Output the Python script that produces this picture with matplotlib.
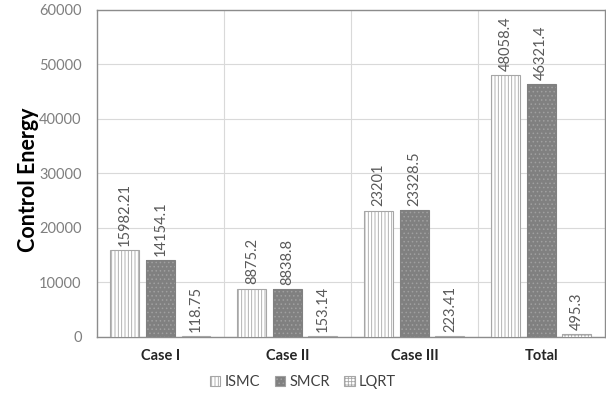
import matplotlib
matplotlib.use("Agg")
import matplotlib.pyplot as plt
import numpy as np
from matplotlib.patches import Patch

categories = ["Case I", "Case II", "Case III", "Total"]
series = ["ISMC", "SMCR", "LQRT"]
ismc = [15982.21, 8875.2, 23201, 48058.4]
smcr = [14154.1, 8838.8, 23328.5, 46321.4]
lqrt = [118.75, 153.14, 223.41, 495.3]
labels_ismc = ["15982.21", "8875.2", "23201", "48058.4"]
labels_smcr = ["14154.1", "8838.8", "23328.5", "46321.4"]
labels_lqrt = ["118.75", "153.14", "223.41", "495.3"]
yticks = [0, 10000, 20000, 30000, 40000, 50000, 60000]

plt.rcParams['font.family'] = ['Lato', 'DejaVu Sans']
plt.rcParams['hatch.linewidth'] = 0.6

fig = plt.figure(figsize=(6.06, 3.96), dpi=100)
ax = fig.add_axes([0.160, 0.149, 0.838, 0.826])

x = np.arange(len(categories))
w = 0.228
step = 0.28
styles = [
    dict(face="white", hatch="|||||", hcol="#a6a6a6", edge="#a6a6a6"),
    dict(face="#808080", hatch="....", hcol="#a0a0a0", edge="#808080"),
    dict(face="white", hatch="+++++", hcol="#a6a6a6", edge="#a6a6a6"),
]
data = [ismc, smcr, lqrt]
labs = [labels_ismc, labels_smcr, labels_lqrt]
for i, (vals, st, lb) in enumerate(zip(data, styles, labs)):
    pos = x + (i - 1) * step
    ax.bar(pos, vals, w, color=st["face"], hatch=st["hatch"], edgecolor=st["hcol"], linewidth=0, zorder=3)
    ax.bar(pos, vals, w, color="none", edgecolor=st["edge"], linewidth=0.8, zorder=4)
    for p, v, t in zip(pos, vals, lb):
        ax.annotate(t, (p, v), xytext=(0, 3), textcoords="offset points", rotation=90,
                    ha="center", va="bottom", fontsize=10.5, color="#595959", zorder=5)

ax.set_xlim(-0.5, 3.5)
ax.set_ylim(0, 60000)
ax.set_yticks(yticks)
ax.set_yticklabels([str(t) for t in yticks], fontsize=10.5, color="#7f7f7f")
ax.set_xticks(x)
ax.set_xticklabels(categories, fontsize=10.5, fontweight="bold", color="#262626")
ax.set_xticks([0.5, 1.5, 2.5], minor=True)
ax.tick_params(axis="both", which="both", length=0)
ax.tick_params(axis="y", pad=11)
ax.tick_params(axis="x", pad=9)
ax.grid(axis="y", color="#d9d9d9", linewidth=0.8, zorder=0)
ax.grid(axis="x", which="minor", color="#d9d9d9", linewidth=0.8, zorder=0)
for s in ax.spines.values():
    s.set_color("#8c8c8c")
    s.set_linewidth(1.0)
ax.set_ylabel("Control Energy", fontsize=15.5, fontweight="bold", color="black", labelpad=5)
ax.yaxis.set_label_coords(-0.115, 0.48)

handles = [Patch(facecolor=st["face"], hatch=st["hatch"], edgecolor=st["hcol"], linewidth=0.8) for st in styles]
fig.legend(handles, series, loc="lower center", bbox_to_anchor=(0.5, -0.015), ncol=3, frameon=False,
           fontsize=10.5, handlelength=0.7, handleheight=0.7, handletextpad=0.3, columnspacing=1.0,
           labelcolor="#404040")

fig.savefig("out.png", dpi=100)
